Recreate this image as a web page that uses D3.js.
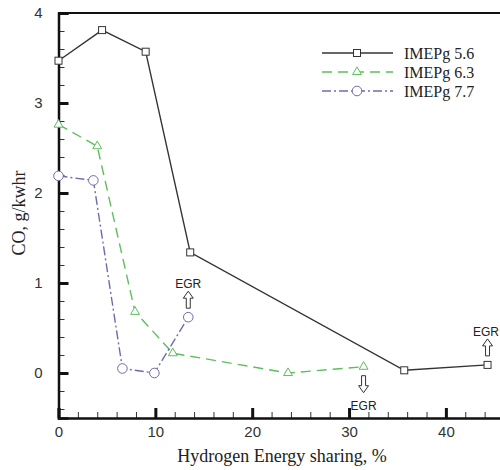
<!DOCTYPE html>
<html>
<head>
<meta charset="utf-8">
<script src="https://cdn.jsdelivr.net/npm/d3@7"></script>
<style>
  body { margin: 0; background: #fff; }
  svg { display: block; }
  .tick-label { font-family: "Liberation Sans", Arial, sans-serif; font-size: 15px; fill: #333; }
  .serif { font-family: "Liberation Serif", "Times New Roman", serif; fill: #222; }
</style>
</head>
<body>
<svg id="chart"></svg>
<script>
// Data
const hes56 = [0, 4.5, 9, 13.6, 35.7, 44.3];
const co56 = [3.47, 3.81, 3.57, 1.34, 0.03, 0.09];
const hes63 = [0, 4, 7.9, 11.8, 23.7, 31.5];
const co63 = [2.76, 2.52, 0.68, 0.22, 0.0, 0.07];
const hes77 = [0, 3.6, 6.6, 9.9, 13.4];
const co77 = [2.19, 2.14, 0.05, 0.0, 0.62];
const seriesNames = ["IMEPg 5.6", "IMEPg 6.3", "IMEPg 7.7"];
const xTicks = [0, 10, 20, 30, 40];
const yTicks = [0, 1, 2, 3, 4];
// EGR arrow annotations: [x, y, direction]
const egrNotes = [[13.4, 0.62, "up"], [31.5, 0.07, "down"], [44.3, 0.09, "up"]];

const width = 500, height = 470;
const svg = d3.select("#chart").attr("width", width).attr("height", height);

const x = d3.scaleLinear().domain([0, 46]).range([58.5, 504]);
const y = d3.scaleLinear().domain([-0.5, 4]).range([418, 13]);

const series = [
    { name: seriesNames[0], xs: hes56, ys: co56, color: "#333", dash: null, marker: "square" },
    { name: seriesNames[1], xs: hes63, ys: co63, color: "#5cbf5c", dash: "10,6", marker: "triangle" },
    { name: seriesNames[2], xs: hes77, ys: co77, color: "#6c6cad", dash: "9,3,2,3", marker: "circle" }
];

// Frame: top line
svg.append("line")
    .attr("x1", x(0)).attr("x2", width)
    .attr("y1", y(4)).attr("y2", y(4))
    .style("stroke", "#111").style("stroke-width", 2);

// Y axis
const yMinor = d3.range(-0.4, 4.0001, 0.2).filter(v => Math.abs(v - Math.round(v)) > 0.01);
svg.append("g")
    .attr("transform", `translate(${x(0)},0)`)
    .call(d3.axisLeft(y).tickValues(yMinor).tickSize(-6).tickFormat(""))
    .call(g => g.select(".domain").remove())
    .call(g => g.selectAll("line").style("stroke", "#333").style("stroke-width", 1));
const yAxis = svg.append("g")
    .attr("transform", `translate(${x(0)},0)`)
    .call(d3.axisLeft(y).tickValues(yTicks).tickSize(-10).tickPadding(16).tickFormat(d3.format("d")));
yAxis.select(".domain").style("stroke", "#111").style("stroke-width", 2.5);
yAxis.selectAll(".tick line").style("stroke", "#111").style("stroke-width", 3);
yAxis.selectAll(".tick text").attr("class", "tick-label");

// X axis
const xMinor = d3.range(2, 46, 2).filter(v => v % 10 !== 0);
svg.append("g")
    .attr("transform", `translate(0,${y(-0.5)})`)
    .call(d3.axisBottom(x).tickValues(xMinor).tickSize(-6).tickFormat(""))
    .call(g => g.select(".domain").remove())
    .call(g => g.selectAll("line").style("stroke", "#333").style("stroke-width", 1));
const xAxis = svg.append("g")
    .attr("transform", `translate(0,${y(-0.5)})`)
    .call(d3.axisBottom(x).tickValues(xTicks).tickSize(-10).tickPadding(8).tickFormat(d3.format("d")));
xAxis.select(".domain").style("stroke", "#111").style("stroke-width", 2.5);
xAxis.selectAll(".tick line").style("stroke", "#111").style("stroke-width", 3);
xAxis.selectAll(".tick text").attr("class", "tick-label");

// Axis titles
svg.append("text")
    .attr("class", "serif")
    .attr("x", 282).attr("y", 462)
    .attr("text-anchor", "middle")
    .style("font-size", "18px")
    .text("Hydrogen Energy sharing, %");
svg.append("text")
    .attr("class", "serif")
    .attr("transform", "translate(25,213) rotate(-90)")
    .attr("text-anchor", "middle")
    .style("font-size", "18px")
    .text("CO, g/kwhr");

// Markers
function drawMarker(g, type, color, cx, cy) {
    if (type === "square") {
        g.append("rect").attr("x", cx - 3.5).attr("y", cy - 3.5).attr("width", 7).attr("height", 7)
            .style("fill", "#fff").style("stroke", color).style("stroke-width", 1);
    } else if (type === "triangle") {
        g.append("path").attr("d", d3.symbol().type(d3.symbolTriangle).size(34)())
            .attr("transform", `translate(${cx},${cy})`)
            .style("fill", "#fff").style("stroke", color).style("stroke-width", 1);
    } else {
        g.append("circle").attr("cx", cx).attr("cy", cy).attr("r", 4.8)
            .style("fill", "#fff").style("stroke", color).style("stroke-width", 1);
    }
}

const line = d3.line().x(d => x(d[0])).y(d => y(d[1]));

series.forEach(s => {
    const pts = s.xs.map((v, i) => [v, s.ys[i]]);
    const g = svg.append("g");
    g.append("path")
        .datum(pts)
        .attr("d", line)
        .style("fill", "none")
        .style("stroke", s.color)
        .style("stroke-width", 1.4)
        .style("stroke-dasharray", s.dash);
    pts.forEach(p => drawMarker(g, s.marker, s.color, x(p[0]), y(p[1])));
});

// Legend
const legend = svg.append("g");
series.forEach((s, i) => {
    const ly = 53 + i * 19;
    legend.append("line")
        .attr("x1", 322).attr("x2", 393).attr("y1", ly).attr("y2", ly)
        .style("stroke", s.color).style("stroke-width", 1.4)
        .style("stroke-dasharray", s.dash);
    drawMarker(legend, s.marker, s.color, 357, ly);
    legend.append("text")
        .attr("class", "serif")
        .attr("x", 404).attr("y", ly + 5.5)
        .style("font-size", "16px")
        .text(s.name);
});

// EGR hollow arrows
function arrowPath(cx, tipY, dir) {
    const len = 17, head = 7, hw = 5, sw = 2;
    const s = dir === "up" ? 1 : -1;
    const t = tipY, hb = tipY + s * head, end = tipY + s * len;
    return `M${cx},${t} L${cx + hw},${hb} L${cx + sw},${hb} L${cx + sw},${end} L${cx - sw},${end} L${cx - sw},${hb} L${cx - hw},${hb} Z`;
}
egrNotes.forEach(([ex, ey, dir]) => {
    const cx = x(ex), cy = y(ey);
    const g = svg.append("g");
    const tip = dir === "up" ? cy - 26 : cy + 26;
    g.append("path").attr("d", arrowPath(cx, tip, dir))
        .style("fill", "#fff").style("stroke", "#333").style("stroke-width", 1);
    g.append("text")
        .attr("x", Math.min(cx, width - 14))
        .attr("y", dir === "up" ? tip - 3 : tip + 17)
        .attr("text-anchor", "middle")
        .style("font-family", "Liberation Sans, Arial, sans-serif")
        .style("font-size", "12px").style("fill", "#222")
        .text("EGR");
});
</script>
</body>
</html>
